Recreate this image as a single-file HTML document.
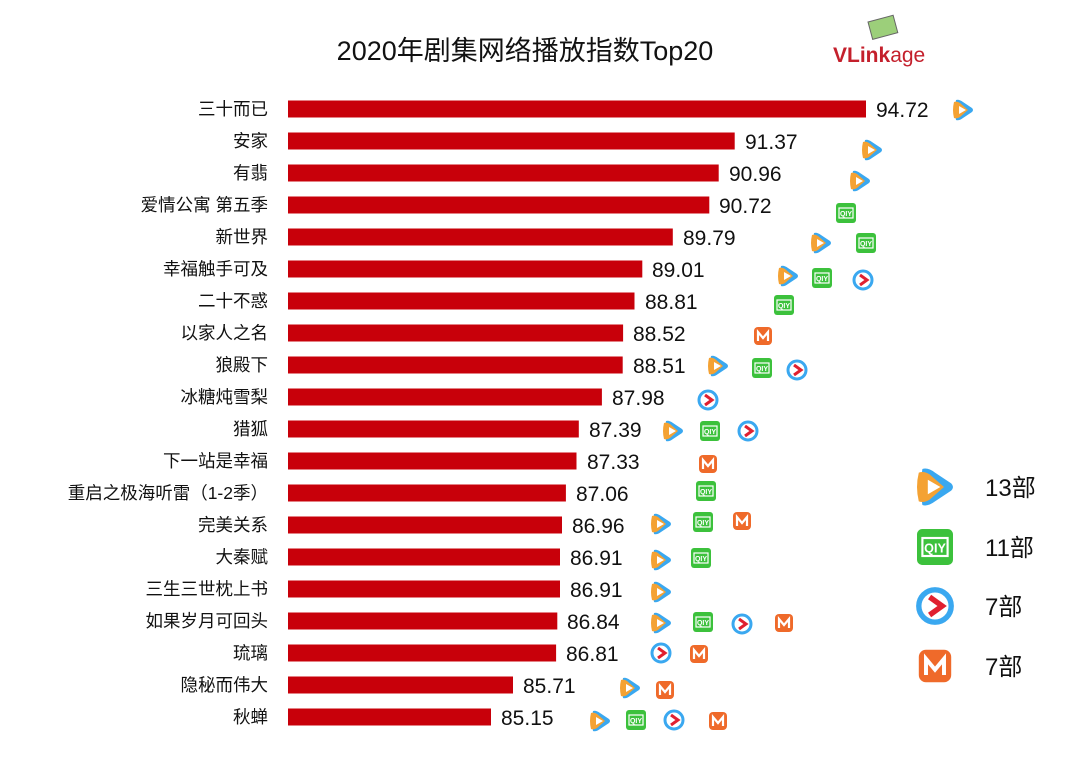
<!DOCTYPE html>
<html><head><meta charset="utf-8"><style>
body{margin:0;background:#fff;width:1080px;height:755px;overflow:hidden;}
</style></head><body>
<svg width="1080" height="755" viewBox="0 0 1080 755" xmlns="http://www.w3.org/2000/svg" font-family="Liberation Sans, Noto Sans CJK SC, sans-serif">
<defs>
<g id="tx"><path d="M-7,-10 Q-4,-11 0,-8 L9,-2 Q11,0 9,2 L0,8 Q-4,11 -7,10 Q-9,0 -7,-10Z" fill="#3aa8f0"/><path d="M-9,-8 Q-6,-9 -3,-7 L5,0 L-3,7 Q-6,9 -9,8 Q-11,0 -9,-8Z" fill="#f4a233"/><path d="M-4,-4 L3,0 L-4,4Z" fill="#fff"/></g>
<g id="iq"><rect x="-10" y="-10" width="20" height="20" rx="3" fill="#3cc13c"/><rect x="-7" y="-5" width="14" height="10" fill="none" stroke="#fff" stroke-width="1.2"/><text x="0" y="3" font-size="7" fill="#fff" text-anchor="middle" font-weight="bold">QIY</text></g>
<g id="yk"><circle r="9" fill="none" stroke="#3aa8f0" stroke-width="3"/><path d="M-3,-5 L4,0 L-3,5" fill="none" stroke="#e02030" stroke-width="3"/></g>
<g id="mg"><rect x="-9" y="-9" width="18" height="18" rx="4" fill="#ef6a2a"/><path d="M-5,5 L-5,-4 L0,2 L5,-4 L5,5" fill="none" stroke="#fff" stroke-width="2.2"/></g>
</defs>
<text x="525" y="60" font-size="27" text-anchor="middle" fill="#111">2020年剧集网络播放指数Top20</text>
<g transform="translate(868,22) rotate(-15)"><rect x="0" y="0" width="26" height="18" fill="#9ccf7a" stroke="#666"/></g>
<text x="833" y="62" font-size="21" font-weight="bold" fill="#c4202c">VLink<tspan font-weight="normal">age</tspan></text>

<g fill="#c8000a">
<rect x="288" y="100.5" width="578" height="17"/>
<rect x="288" y="132.5" width="446.7" height="17"/>
<rect x="288" y="164.5" width="430.7" height="17"/>
<rect x="288" y="196.5" width="421.3" height="17"/>
<rect x="288" y="228.5" width="384.8" height="17"/>
<rect x="288" y="260.5" width="354.3" height="17"/>
<rect x="288" y="292.5" width="346.5" height="17"/>
<rect x="288" y="324.5" width="335.1" height="17"/>
<rect x="288" y="356.5" width="334.7" height="17"/>
<rect x="288" y="388.5" width="313.9" height="17"/>
<rect x="288" y="420.5" width="290.8" height="17"/>
<rect x="288" y="452.5" width="288.5" height="17"/>
<rect x="288" y="484.5" width="277.9" height="17"/>
<rect x="288" y="516.5" width="274" height="17"/>
<rect x="288" y="548.5" width="272" height="17"/>
<rect x="288" y="580.5" width="272" height="17"/>
<rect x="288" y="612.5" width="269.3" height="17"/>
<rect x="288" y="644.5" width="268.1" height="17"/>
<rect x="288" y="676.5" width="225" height="17"/>
<rect x="288" y="708.5" width="203" height="17"/>
</g>
<g font-size="17.5" text-anchor="end" fill="#111">
<text x="268" y="115">三十而已</text>
<text x="268" y="147">安家</text>
<text x="268" y="179">有翡</text>
<text x="268" y="211">爱情公寓 第五季</text>
<text x="268" y="243">新世界</text>
<text x="268" y="275">幸福触手可及</text>
<text x="268" y="307">二十不惑</text>
<text x="268" y="339">以家人之名</text>
<text x="268" y="371">狼殿下</text>
<text x="268" y="403">冰糖炖雪梨</text>
<text x="268" y="435">猎狐</text>
<text x="268" y="467">下一站是幸福</text>
<text x="268" y="499">重启之极海听雷（1-2季）</text>
<text x="268" y="531">完美关系</text>
<text x="268" y="563">大秦赋</text>
<text x="268" y="595">三生三世枕上书</text>
<text x="268" y="627">如果岁月可回头</text>
<text x="268" y="659">琉璃</text>
<text x="268" y="691">隐秘而伟大</text>
<text x="268" y="723">秋蝉</text>
</g>
<g font-size="21" fill="#111">
<text x="876" y="117">94.72</text>
<text x="745" y="149">91.37</text>
<text x="729" y="181">90.96</text>
<text x="719" y="213">90.72</text>
<text x="683" y="245">89.79</text>
<text x="652" y="277">89.01</text>
<text x="645" y="309">88.81</text>
<text x="633" y="341">88.52</text>
<text x="633" y="373">88.51</text>
<text x="612" y="405">87.98</text>
<text x="589" y="437">87.39</text>
<text x="587" y="469">87.33</text>
<text x="576" y="501">87.06</text>
<text x="572" y="533">86.96</text>
<text x="570" y="565">86.91</text>
<text x="570" y="597">86.91</text>
<text x="567" y="629">86.84</text>
<text x="566" y="661">86.81</text>
<text x="523" y="693">85.71</text>
<text x="501" y="725">85.15</text>
</g>
<use href="#tx" x="963" y="110"/>
<use href="#tx" x="872" y="150"/>
<use href="#tx" x="860" y="181"/>
<use href="#iq" x="846" y="213"/>
<use href="#tx" x="821" y="243"/><use href="#iq" x="866" y="243"/>
<use href="#tx" x="788" y="276"/><use href="#iq" x="822" y="278"/><use href="#yk" x="863" y="280"/>
<use href="#iq" x="784" y="305"/>
<use href="#mg" x="763" y="336"/>
<use href="#tx" x="718" y="366"/><use href="#iq" x="762" y="368"/><use href="#yk" x="797" y="370"/>
<use href="#yk" x="708" y="400"/>
<use href="#tx" x="673" y="431"/><use href="#iq" x="710" y="431"/><use href="#yk" x="748" y="431"/>
<use href="#mg" x="708" y="464"/>
<use href="#iq" x="706" y="491"/>
<use href="#tx" x="661" y="524"/><use href="#iq" x="703" y="522"/><use href="#mg" x="742" y="521"/>
<use href="#tx" x="661" y="560"/><use href="#iq" x="701" y="558"/>
<use href="#tx" x="661" y="592"/>
<use href="#tx" x="661" y="623"/><use href="#iq" x="703" y="622"/><use href="#yk" x="742" y="624"/><use href="#mg" x="784" y="623"/>
<use href="#yk" x="661" y="653"/><use href="#mg" x="699" y="654"/>
<use href="#tx" x="630" y="688"/><use href="#mg" x="665" y="690"/>
<use href="#tx" x="600" y="721"/><use href="#iq" x="636" y="720"/><use href="#yk" x="674" y="720"/><use href="#mg" x="718" y="721"/>

<g transform="translate(935,487) scale(1.8)"><use href="#tx"/></g>
<g transform="translate(935,547) scale(1.8)"><use href="#iq"/></g>
<g transform="translate(935,606) scale(1.8)"><use href="#yk"/></g>
<g transform="translate(935,666) scale(1.8)"><use href="#mg"/></g>
<g font-size="24" fill="#111"><text x="985" y="496">13部</text><text x="985" y="556">11部</text><text x="985" y="615">7部</text><text x="985" y="675">7部</text></g>
</svg>
</body></html>
